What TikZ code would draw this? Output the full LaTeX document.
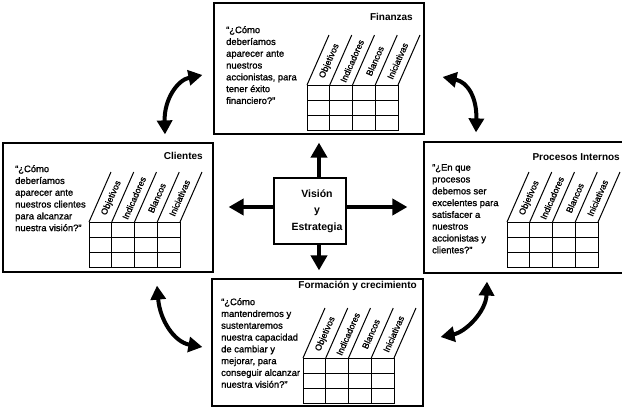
\documentclass[tikz,border=0pt]{standalone}
\usepackage{fontspec}
\setmainfont{Liberation Sans}
\newfontfamily\heavyfont{Liberation Sans}[FakeBold=1.2]
\usetikzlibrary{arrows.meta,calc}
\tikzset{
  box/.style={draw, line width=1.2pt, inner sep=0pt},
  gridline/.style={line width=1pt},
  qtext/.style={anchor=north west, align=left, inner sep=0pt, font=\heavyfont\fontsize{9.4}{11.8}\selectfont},
  boxtitle/.style={anchor=base east, inner sep=0pt, font=\fontsize{10}{12}\selectfont\bfseries},
  collabel/.style={rotate=66, inner sep=0pt, font=\heavyfont\fontsize{8.8}{9}\selectfont},
  bigarrow/.style={line width=4pt, -{Triangle[length=15pt,width=16pt]}},
  curvarrow/.style={line width=4pt, {Triangle[length=14pt,width=15pt]}-{Triangle[length=14pt,width=15pt]}},
}
\newcommand\bsctable[3]{%
  \begin{scope}[shift={(#2,#3)}]
    \draw[gridline] (0,0) rectangle (91,45);
    \foreach \i in {1,2,3} \draw[gridline] (\i*22.75,0) -- (\i*22.75,45);
    \foreach \j in {1,2} \draw[gridline] (0,\j*15) -- (91,\j*15);
    \foreach \i in {0,...,4} \draw[gridline] (\i*22.75,0) -- ++(22,-50);
    \foreach \lab [count=\k from 0] in {Objetivos,Indicadores,Blancos,Iniciativas}
      \node[collabel] (#1-\k) at (\k*22.75+11.4+11,-24) {\lab};
  \end{scope}}
\begin{document}
\begin{tikzpicture}[x=1pt,y=-1pt]
\useasboundingbox (0,0) rectangle (622,408);
\clip (0,0) rectangle (622,408);
\fill[white] (0,0) rectangle (622,408);

% outer boxes
\node[box, minimum width=210pt, minimum height=131pt] (fin) at (319,68.5) {};
\node[box, minimum width=210pt, minimum height=129pt] (cli) at (108,207.5) {};
\node[box, minimum width=202pt, minimum height=131pt] (pro) at (525,207.5) {};
\node[box, minimum width=211pt, minimum height=127pt] (frm) at (317.5,342.5) {};

% centre
\node[box, minimum width=72pt, minimum height=66pt] (vis) at (310,211) {};
\node[align=center, inner sep=0pt, font=\fontsize{10.5}{16.5}\selectfont\bfseries] (vistext) at (317,211) {Visión\\y\\Estrategia};

% titles
\node[boxtitle] (fint) at (413,20.5) {Finanzas};
\node[boxtitle] (clit) at (203,159.5) {Clientes};
\node[boxtitle] (prot) at (620,160.5) {Procesos Internos};
\node[boxtitle] (frmt) at (417,288.5) {Formación y crecimiento};

% questions
\node[qtext] (finq) at (226,26) {“¿Cómo\\deberíamos\\aparecer ante\\nuestros\\accionistas, para\\tener éxito\\financiero?”};
\node[qtext] (cliq) at (15,165) {“¿Cómo\\deberíamos\\aparecer ante\\nuestros clientes\\para alcanzar\\nuestra visión?”};
\node[qtext] (proq) at (432,164) {“¿En que\\procesos\\debemos ser\\excelentes para\\satisfacer a\\nuestros\\accionistas y\\clientes?”};
\node[qtext] (frmq) at (221,298) {“¿Cómo\\mantendremos y\\sustentaremos\\nuestra capacidad\\de cambiar y\\mejorar, para\\conseguir alcanzar\\nuestra visión?”};

% tables
\bsctable{fintab}{307}{85}
\bsctable{clitab}{89}{222}
\bsctable{protab}{507}{222}
\bsctable{frmtab}{303}{358}

% straight arrows from centre
\draw[bigarrow] ($(vis.north)+(9,0)$) -- ($(fin.south)+(0,8)$);
\draw[bigarrow] ($(vis.south)+(9,0)$) -- ($(frm.north)+(1.5,-8)$);
\draw[bigarrow] ($(vis.west)+(0,-4)$) -- ($(cli.east)+(15,-0.5)$);
\draw[bigarrow] ($(vis.east)+(0,-4)$) -- ($(pro.west)+(-16,-0.5)$);

% curved double arrows
\draw[curvarrow] ($(fin.west)+(-11,6.5)$) .. controls +(-25,5) and +(-1,-35) .. ($(cli.north)+(57,-8)$);
\draw[curvarrow] ($(fin.east)+(18,8.5)$) .. controls +(25,5) and +(1,-35) .. ($(pro.north)+(-49,-9)$);
\draw[curvarrow] ($(cli.south)+(49,13)$) .. controls +(3,35) and +(-28,-5) .. ($(frm.west)+(-9,4.5)$);
\draw[curvarrow] ($(pro.south)+(-38,8)$) .. controls +(-1,30) and +(25,-5) .. ($(frm.east)+(17,-5.5)$);
\end{tikzpicture}
\end{document}
